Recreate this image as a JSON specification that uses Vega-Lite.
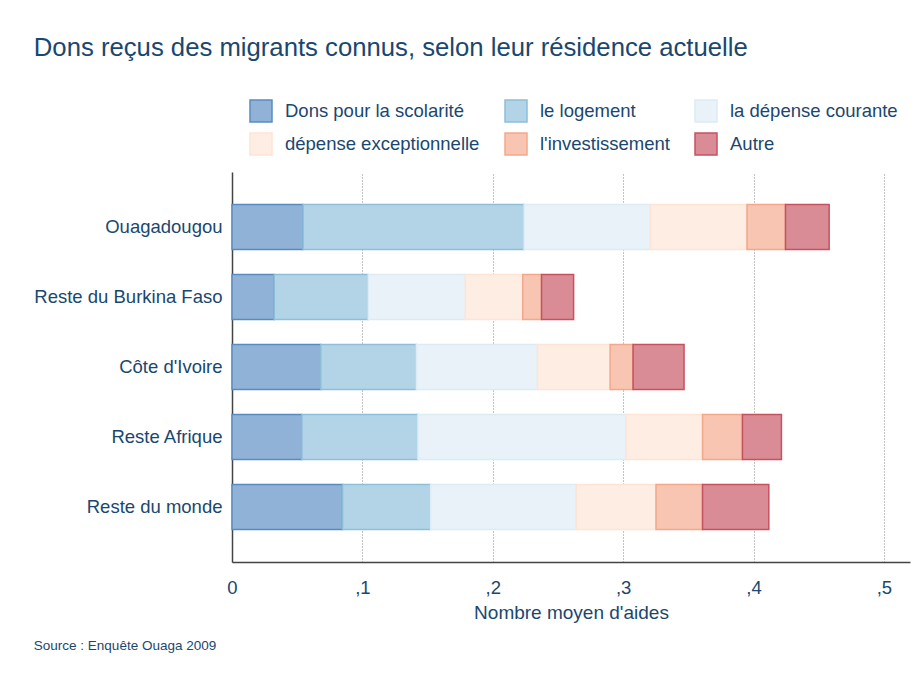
{
  "$schema": "https://vega.github.io/schema/vega-lite/v6.json",
  "background": "white",
  "padding": {"left": 33, "top": 35, "right": 10, "bottom": 10},
  "config": {"font": "Liberation Sans", "view": {"stroke": null}},
  "title": {"text": "Source : Enquête Ouaga 2009", "orient": "bottom", "anchor": "start", "fontSize": 13.5, "fontWeight": "normal", "color": "#1a476f", "offset": 16},
  "vconcat": [
    {
      "title": {"text": "Dons reçus des migrants connus, selon leur résidence actuelle", "anchor": "start", "fontSize": 25.7, "fontWeight": "normal", "color": "#1a476f", "offset": 110},
      "width": 678,
      "height": 390,
      "data": {"values": [
        {"residence": "Ouagadougou", "type": "Dons pour la scolarité", "k": 1, "value": 0.0545},
        {"residence": "Ouagadougou", "type": "le logement", "k": 2, "value": 0.1695},
        {"residence": "Ouagadougou", "type": "la dépense courante", "k": 3, "value": 0.097},
        {"residence": "Ouagadougou", "type": "dépense exceptionnelle", "k": 4, "value": 0.074},
        {"residence": "Ouagadougou", "type": "l'investissement", "k": 5, "value": 0.0295},
        {"residence": "Ouagadougou", "type": "Autre", "k": 6, "value": 0.0335},
        {"residence": "Reste du Burkina Faso", "type": "Dons pour la scolarité", "k": 1, "value": 0.0324},
        {"residence": "Reste du Burkina Faso", "type": "le logement", "k": 2, "value": 0.0721},
        {"residence": "Reste du Burkina Faso", "type": "la dépense courante", "k": 3, "value": 0.0745},
        {"residence": "Reste du Burkina Faso", "type": "dépense exceptionnelle", "k": 4, "value": 0.044},
        {"residence": "Reste du Burkina Faso", "type": "l'investissement", "k": 5, "value": 0.0144},
        {"residence": "Reste du Burkina Faso", "type": "Autre", "k": 6, "value": 0.0246},
        {"residence": "Côte d'Ivoire", "type": "Dons pour la scolarité", "k": 1, "value": 0.0681},
        {"residence": "Côte d'Ivoire", "type": "le logement", "k": 2, "value": 0.0733},
        {"residence": "Côte d'Ivoire", "type": "la dépense courante", "k": 3, "value": 0.0929},
        {"residence": "Côte d'Ivoire", "type": "dépense exceptionnelle", "k": 4, "value": 0.0557},
        {"residence": "Côte d'Ivoire", "type": "l'investissement", "k": 5, "value": 0.0176},
        {"residence": "Côte d'Ivoire", "type": "Autre", "k": 6, "value": 0.0391},
        {"residence": "Reste Afrique", "type": "Dons pour la scolarité", "k": 1, "value": 0.0536},
        {"residence": "Reste Afrique", "type": "le logement", "k": 2, "value": 0.089},
        {"residence": "Reste Afrique", "type": "la dépense courante", "k": 3, "value": 0.1595},
        {"residence": "Reste Afrique", "type": "dépense exceptionnelle", "k": 4, "value": 0.0588},
        {"residence": "Reste Afrique", "type": "l'investissement", "k": 5, "value": 0.0306},
        {"residence": "Reste Afrique", "type": "Autre", "k": 6, "value": 0.0299},
        {"residence": "Reste du monde", "type": "Dons pour la scolarité", "k": 1, "value": 0.0848},
        {"residence": "Reste du monde", "type": "le logement", "k": 2, "value": 0.0675},
        {"residence": "Reste du monde", "type": "la dépense courante", "k": 3, "value": 0.1117},
        {"residence": "Reste du monde", "type": "dépense exceptionnelle", "k": 4, "value": 0.0612},
        {"residence": "Reste du monde", "type": "l'investissement", "k": 5, "value": 0.0357},
        {"residence": "Reste du monde", "type": "Autre", "k": 6, "value": 0.0508}
      ]},
      "mark": {"type": "bar", "strokeWidth": 1.5},
      "encoding": {
        "y": {
          "field": "residence", "type": "nominal",
          "sort": ["Ouagadougou", "Reste du Burkina Faso", "Côte d'Ivoire", "Reste Afrique", "Reste du monde"],
          "scale": {"paddingInner": 0.357, "paddingOuter": 0.464},
          "axis": {"title": null, "labelFontSize": 18.5, "labelColor": "#1a476f", "ticks": false, "domainColor": "#444", "domainWidth": 1.5, "labelPadding": 10, "labelLimit": 300}
        },
        "x": {
          "field": "value", "type": "quantitative", "stack": "zero",
          "scale": {"domain": [0, 0.52], "nice": false},
          "axis": {
            "values": [0, 0.1, 0.2, 0.3, 0.4, 0.5],
            "labelExpr": "datum.value == 0 ? '0' : replace(format(datum.value, '.1f'), '0.', ',')",
            "labelFlush": false,
            "grid": true, "gridDash": [1, 2], "gridColor": "#888", "gridWidth": 1,
            "ticks": false, "domainColor": "#444", "domainWidth": 1.5,
            "title": "Nombre moyen d'aides", "titleFontSize": 19, "titleFontWeight": "normal", "titleColor": "#1a476f", "titlePadding": 7,
            "labelFontSize": 18.5, "labelColor": "#1a476f", "labelPadding": 16
          }
        },
        "fill": {
          "field": "type", "type": "nominal",
          "scale": {
            "domain": ["Dons pour la scolarité", "le logement", "la dépense courante", "dépense exceptionnelle", "l'investissement", "Autre"],
            "range": ["#90b2d6", "#b3d4e7", "#e8f2f8", "#feede3", "#f7c5b1", "#d98c95"]
          },
          "legend": {"title": null, "orient": "none", "direction": "horizontal", "legendX": 17, "legendY": -73, "columns": 3, "symbolType": "square", "symbolSize": 484, "symbolStrokeWidth": 1.5, "labelFontSize": 18.5, "labelColor": "#1a476f", "labelOffset": 12, "columnPadding": 22, "rowPadding": 5, "labelLimit": 300}
        },
        "stroke": {
          "field": "type", "type": "nominal",
          "scale": {
            "domain": ["Dons pour la scolarité", "le logement", "la dépense courante", "dépense exceptionnelle", "l'investissement", "Autre"],
            "range": ["#588cc1", "#8dbfdb", "#ddecf4", "#fee4d5", "#f3a88a", "#c65260"]
          },
          "legend": {"title": null, "orient": "none", "direction": "horizontal", "legendX": 17, "legendY": -73, "columns": 3, "symbolType": "square", "symbolSize": 484, "symbolStrokeWidth": 1.5, "labelFontSize": 18.5, "labelColor": "#1a476f", "labelOffset": 12, "columnPadding": 22, "rowPadding": 5, "labelLimit": 300}
        },
        "order": {"field": "k", "type": "quantitative"}
      }
    }
  ]
}
